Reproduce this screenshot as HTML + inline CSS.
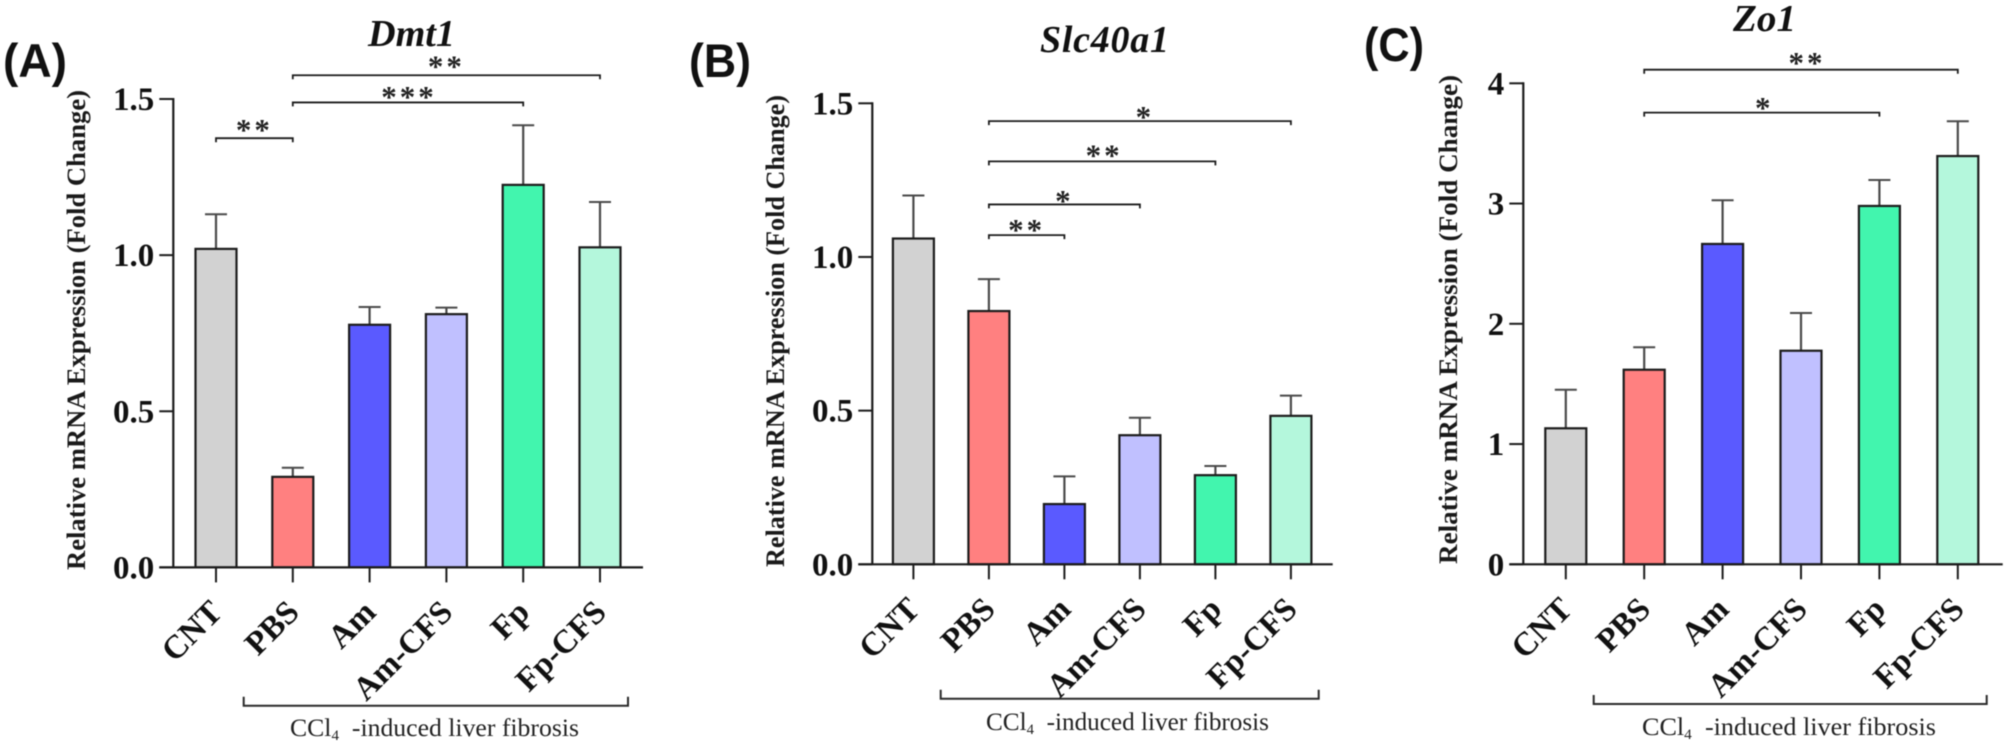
<!DOCTYPE html>
<html lang="en">
<head>
<meta charset="utf-8">
<title>Relative mRNA expression of Dmt1, Slc40a1 and Zo1</title>
<style>
html,body{margin:0;padding:0;background:#fff;}
body{width:2008px;height:743px;overflow:hidden;}
svg{display:block;filter:blur(0.45px);}
.serif{font-family:"Liberation Serif","Times New Roman",serif;}
.letter{font-family:"Liberation Sans",Arial,sans-serif;font-weight:700;font-size:47px;fill:#111;}
.title{font-family:"Liberation Serif",serif;font-weight:700;font-style:italic;font-size:38px;fill:#111;}
.ytitle{font-family:"Liberation Serif",serif;font-weight:700;font-size:26.5px;fill:#1a1a1a;}
.group{font-family:"Liberation Serif",serif;font-size:25.5px;fill:#222;}
.tick{font-family:"Liberation Serif",serif;font-weight:700;font-size:33px;fill:#111;}
.cat{font-family:"Liberation Serif",serif;font-weight:700;font-size:33px;fill:#111;}
.star{font-family:"Liberation Serif",serif;font-weight:700;font-size:31px;letter-spacing:3px;fill:#222;}
</style>
</head>
<body>
<svg id="figure" xmlns="http://www.w3.org/2000/svg" width="2008" height="743" viewBox="0 0 2008 743">
  <rect width="2008" height="743" fill="#fff"/>

  <g id="panel-a">
    <text class="letter" x="3" y="77" textLength="64" lengthAdjust="spacingAndGlyphs">(A)</text>
    <text class="title" x="368" y="46" textLength="87" lengthAdjust="spacingAndGlyphs">Dmt1</text>
    <text class="ytitle" transform="translate(85 570) rotate(-90)" textLength="480" lengthAdjust="spacingAndGlyphs">Relative mRNA Expression (Fold Change)</text>
    <text class="group" x="290" y="736" textLength="289" lengthAdjust="spacingAndGlyphs">CCl<tspan font-size="15" dy="4">4</tspan><tspan dy="-4"> &#160;-induced liver fibrosis</tspan></text>
  </g>

  <g id="panel-b">
    <text class="letter" x="689" y="77" textLength="62" lengthAdjust="spacingAndGlyphs">(B)</text>
    <text class="title" x="1040" y="52" textLength="129" lengthAdjust="spacing">Slc40a1</text>
    <text class="ytitle" transform="translate(784 567) rotate(-90)" textLength="472" lengthAdjust="spacingAndGlyphs">Relative mRNA Expression (Fold Change)</text>
    <text class="group" x="986" y="730" textLength="283" lengthAdjust="spacingAndGlyphs">CCl<tspan font-size="15" dy="4">4</tspan><tspan dy="-4"> &#160;-induced liver fibrosis</tspan></text>
  </g>

  <g id="panel-c">
    <text class="letter" x="1364" y="61" textLength="60" lengthAdjust="spacingAndGlyphs">(C)</text>
    <text class="title" x="1733" y="31" textLength="63" lengthAdjust="spacingAndGlyphs">Zo1</text>
    <text class="ytitle" transform="translate(1457 564) rotate(-90)" textLength="489" lengthAdjust="spacingAndGlyphs">Relative mRNA Expression (Fold Change)</text>
    <text class="group" x="1642" y="735" textLength="294" lengthAdjust="spacingAndGlyphs">CCl<tspan font-size="15" dy="4">4</tspan><tspan dy="-4"> &#160;-induced liver fibrosis</tspan></text>
  </g>
</svg>

<script>
// ---- chart data ----
const categories = ["CNT", "PBS", "Am", "Am-CFS", "Fp", "Fp-CFS"];

const dmt1Values = [1.02, 0.29, 0.777, 0.811, 1.225, 1.025];
const dmt1Errors = [0.111, 0.029, 0.057, 0.021, 0.191, 0.145];
const dmt1Ticks = [0, 0.5, 1, 1.5];
const dmt1TickLabels = ["0.0", "0.5", "1.0", "1.5"];
const dmt1SigFrom = [0, 1, 1];
const dmt1SigTo = [1, 4, 5];
const dmt1SigLevel = [1.3745, 1.489, 1.576];
const dmt1SigLabel = ["**", "***", "**"];

const slc40a1Values = [1.06, 0.824, 0.196, 0.42, 0.29, 0.483];
const slc40a1Errors = [0.14, 0.104, 0.09, 0.057, 0.03, 0.066];
const slc40a1Ticks = [0, 0.5, 1, 1.5];
const slc40a1TickLabels = ["0.0", "0.5", "1.0", "1.5"];
const slc40a1SigFrom = [1, 1, 1, 1];
const slc40a1SigTo = [5, 4, 3, 2];
const slc40a1SigLevel = [1.442, 1.311, 1.171, 1.071];
const slc40a1SigLabel = ["*", "**", "*", "**"];

const zo1Values = [1.131, 1.618, 2.664, 1.776, 2.98, 3.395];
const zo1Errors = [0.321, 0.187, 0.363, 0.314, 0.216, 0.289];
const zo1Ticks = [0, 1, 2, 3, 4];
const zo1TickLabels = ["0", "1", "2", "3", "4"];
const zo1SigFrom = [1, 1];
const zo1SigTo = [5, 4];
const zo1SigLevel = [4.113, 3.756];
const zo1SigLabel = ["**", "*"];

// ---- layout and style ----
const barColors = ["#d2d2d2", "#ff8080", "#5a5aff", "#c0c0ff", "#42f5ae", "#b4f7dc"];
const inkColor = "#1c1c1c";
const errColor = "#4a4a4a";
const SVG_NS = "http://www.w3.org/2000/svg";

const panels = [
  { id: "panel-a", prefix: "dmt1", values: dmt1Values, errors: dmt1Errors, ticks: dmt1Ticks, tickLabels: dmt1TickLabels,
    sigFrom: dmt1SigFrom, sigTo: dmt1SigTo, sigLevel: dmt1SigLevel, sigLabel: dmt1SigLabel,
    starGap: [12.3, 9.5, 13], starDx: [-1, 0, -1],
    axisX: 173.3, xEnd: 643, y0: 567.4, yTop: 99, yMax: 1.5, x0: 216, step: 76.8,
    groupL: 243.7, groupR: 628, groupY: 705.7, labelTop: 614 },
  { id: "panel-b", prefix: "slc40a1", values: slc40a1Values, errors: slc40a1Errors, ticks: slc40a1Ticks, tickLabels: slc40a1TickLabels,
    sigFrom: slc40a1SigFrom, sigTo: slc40a1SigTo, sigLevel: slc40a1SigLevel, sigLabel: slc40a1SigLabel,
    starGap: [8, 10, 7.6, 9], starDx: [4, 1, -1, -1],
    axisX: 872.3, xEnd: 1332.7, y0: 564.3, yTop: 103.3, yMax: 1.5, x0: 913.4, step: 75.5,
    groupL: 940.7, groupR: 1318.7, groupY: 698.7, labelTop: 611 },
  { id: "panel-c", prefix: "zo1", values: zo1Values, errors: zo1Errors, ticks: zo1Ticks, tickLabels: zo1TickLabels,
    sigFrom: zo1SigFrom, sigTo: zo1SigTo, sigLevel: zo1SigLevel, sigLabel: zo1SigLabel,
    starGap: [10.7, 8.7], starDx: [5, 1.5],
    axisX: 1523.3, xEnd: 2002.7, y0: 564.3, yTop: 83.3, yMax: 4, x0: 1565.8, step: 78.4,
    groupL: 1593.7, groupR: 1986.7, groupY: 704, labelTop: 611 }
];

function make(tag, parent, attrs) {
  const node = document.createElementNS(SVG_NS, tag);
  for (const key in attrs) node.setAttribute(key, attrs[key]);
  parent.appendChild(node);
  return node;
}

function drawPanel(p) {
  const root = document.getElementById(p.id);
  const xScale = function (i) { return p.x0 + i * p.step; };
  const yScale = function (v) { return p.y0 - (v / p.yMax) * (p.y0 - p.yTop); };

  // bars and error bars
  p.values.forEach(function (v, i) {
    const cx = xScale(i);
    const top = yScale(v);
    const capY = yScale(v + p.errors[i]);

    const stem = make("line", root, { x1: cx, x2: cx, y1: top, y2: capY, stroke: errColor, "stroke-width": 2.2 });
    
    

    const cap = make("line", root, { x1: cx - 11, x2: cx + 11, y1: capY, y2: capY, stroke: errColor, "stroke-width": 2 });
    
    

    const bar = make("rect", root, { x: cx - 20.5, y: top, width: 41, height: p.y0 - top, fill: barColors[i], stroke: inkColor, "stroke-width": 2.2 });
    
    
  });

  // y axis
  const yAxis = make("line", root, { x1: p.axisX, x2: p.axisX, y1: yScale(p.ticks[p.ticks.length - 1]) - 1, y2: p.y0, stroke: inkColor, "stroke-width": 2.2 });
  
  

  p.ticks.forEach(function (t, i) {
    const y = yScale(t);
    const tick = make("line", root, { x1: p.axisX - 14, x2: p.axisX, y1: y, y2: y, stroke: inkColor, "stroke-width": 2 });
    
    

    const label = make("text", root, { x: p.axisX - 19, y: y + 11, "text-anchor": "end", class: "tick" });
    label.textContent = p.tickLabels[i];
    
    
  });

  // x axis
  const xAxis = make("line", root, { x1: p.axisX - 14, x2: p.xEnd, y1: p.y0, y2: p.y0, stroke: inkColor, "stroke-width": 2.2 });
  
  

  categories.forEach(function (name, i) {
    const cx = xScale(i);
    const tick = make("line", root, { x1: cx, x2: cx, y1: p.y0, y2: p.y0 + 15, stroke: inkColor, "stroke-width": 2 });
    
    

    const lx = cx + 8;
    const label = make("text", root, { x: lx, y: p.labelTop, "text-anchor": "end", class: "cat", transform: "rotate(-45 " + lx + " " + p.labelTop + ")" });
    label.textContent = name;
    
    
  });

  // significance brackets
  p.sigLevel.forEach(function (level, i) {
    const xa = xScale(p.sigFrom[i]);
    const xb = xScale(p.sigTo[i]);
    const y = yScale(level);
    const bracket = make("path", root, { d: "M" + xa + " " + (y + 4) + "V" + y + "H" + xb + "V" + (y + 4), fill: "none", stroke: inkColor, "stroke-width": 1.8 });
    
    

    const star = make("text", root, { x: (xa + xb) / 2 + 1 + p.starDx[i], y: y - p.starGap[i] + 14, "text-anchor": "middle", class: "star" });
    star.textContent = p.sigLabel[i];
    
    
  });

  // group bracket
  const group = make("path", root, { d: "M" + p.groupL + " " + (p.groupY - 9) + "V" + p.groupY + "H" + p.groupR + "V" + (p.groupY - 9), fill: "none", stroke: "#2a2a2a", "stroke-width": 2 });
  
  
}

panels.forEach(drawPanel);
</script>
</body>
</html>
